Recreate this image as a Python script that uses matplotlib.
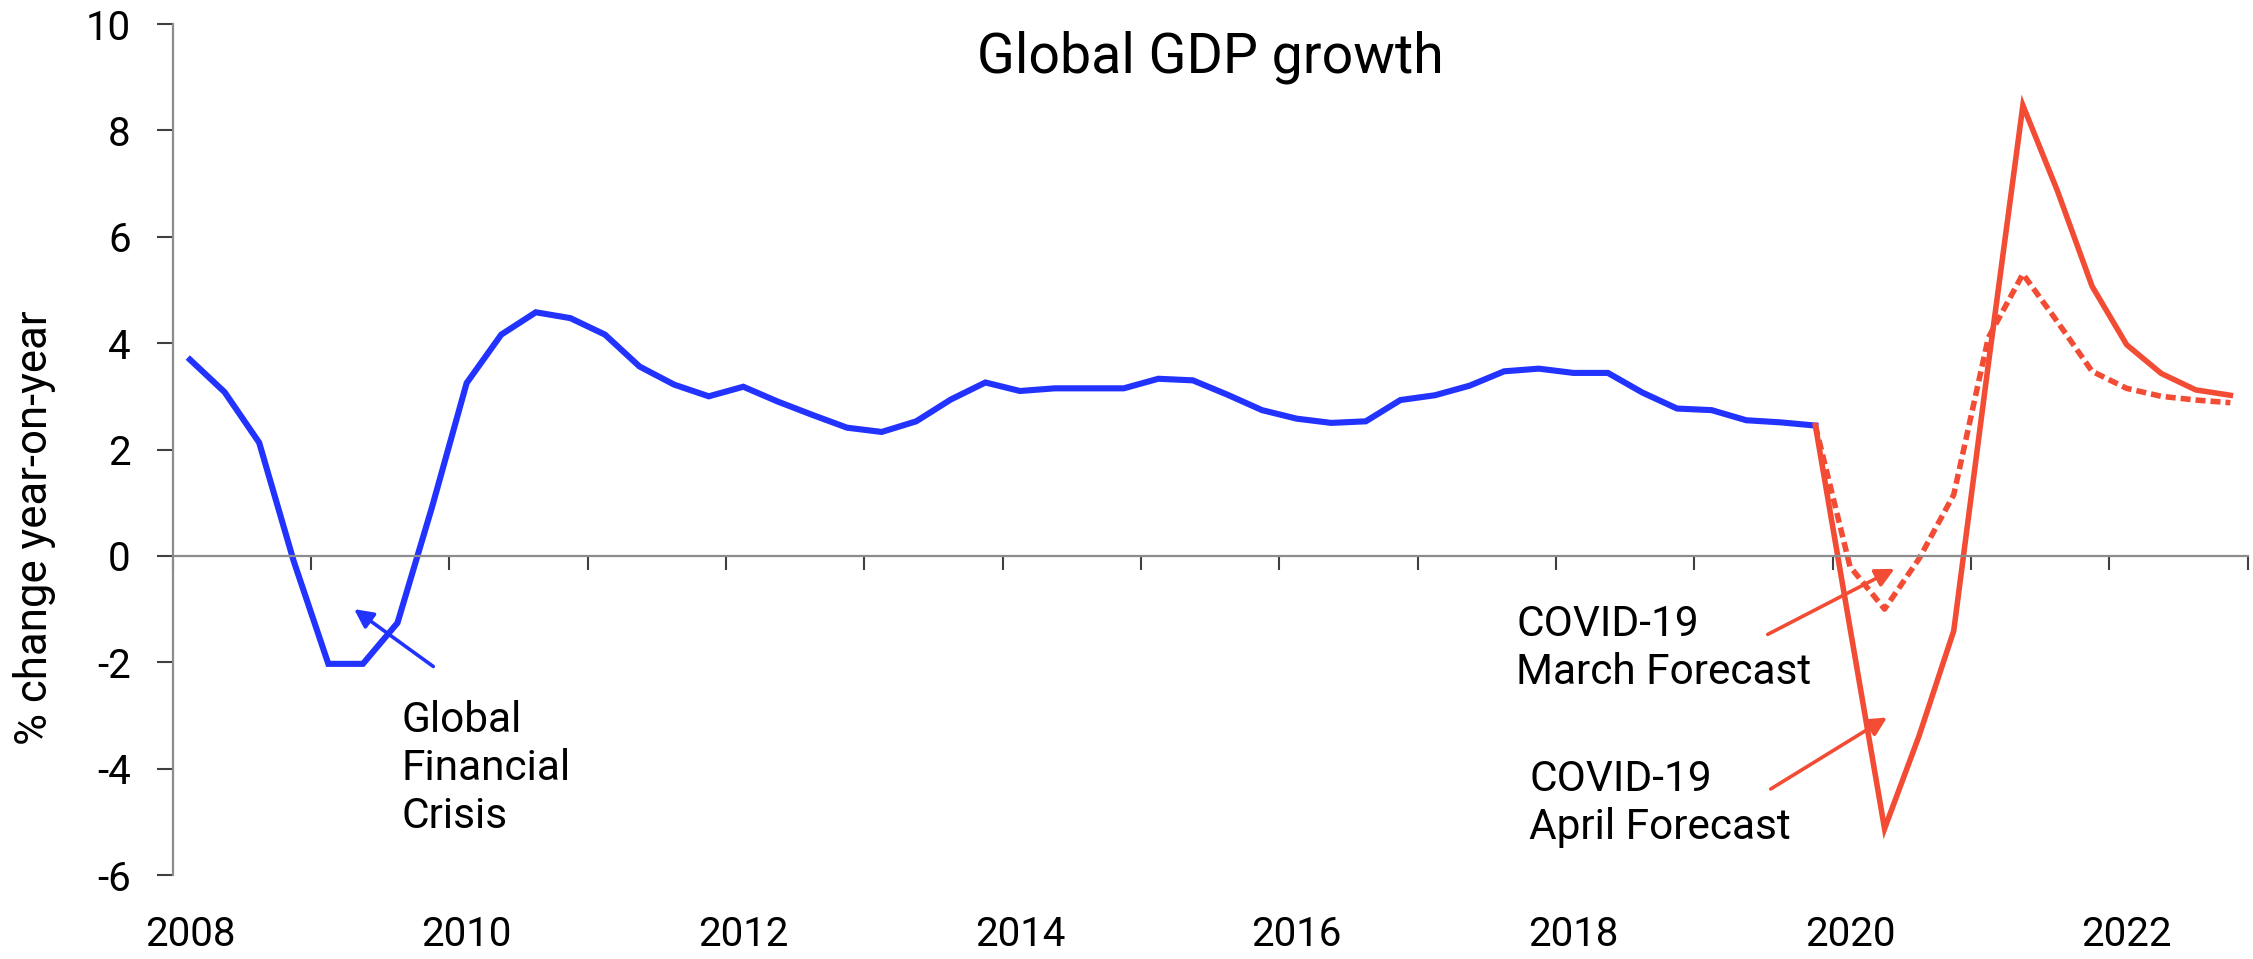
import numpy as np
import matplotlib
matplotlib.use("Agg")
import matplotlib.pyplot as plt

plt.rcParams['font.family'] = ['Roboto', 'DejaVu Sans']
plt.rcParams['axes.unicode_minus'] = False

# quarterly data, 2008Q1 .. 2022Q4 (index 0..59)
actual = [3.69, 3.08, 2.13, -0.10, -2.03, -2.03, -1.26, 0.92,
          3.25, 4.16, 4.58, 4.47, 4.16, 3.56, 3.22, 3.00,
          3.18, 2.90, 2.65, 2.41, 2.33, 2.53, 2.94, 3.26,
          3.10, 3.15, 3.15, 3.15, 3.33, 3.30, 3.03, 2.74,
          2.58, 2.50, 2.53, 2.93, 3.02, 3.20, 3.47, 3.52,
          3.44, 3.44, 3.07, 2.77, 2.74, 2.55, 2.51, 2.45]
# forecasts start from the last actual quarter (2019Q4)
april = [2.45, -1.35, -5.13, -3.38, -1.41, 3.60, 8.47, 6.86,
         5.07, 3.97, 3.43, 3.12, 3.02]
march = [2.45, -0.20, -1.00, -0.05, 1.15, 4.10, 5.30, 4.40,
         3.47, 3.15, 3.00, 2.93, 2.88]

year_labels = ['2008', '2010', '2012', '2014', '2016', '2018', '2020', '2022']
y_ticks = [-6, -4, -2, 0, 2, 4, 6, 8, 10]

BLUE = '#2233FF'
RED = '#F24C35'
GREY = '#8c8c8c'

x_act = np.arange(len(actual))
x_fc = np.arange(len(actual) - 1, len(actual) - 1 + len(april))

fig = plt.figure(figsize=(22.53, 9.59), dpi=100)
ax = fig.add_axes([0.07665, 0.08759, 0.92099, 0.88738])

ax.plot(x_act, actual, color=BLUE, lw=4.4, solid_joinstyle='miter')
ax.plot(x_fc, march, color=RED, lw=4, dashes=(1.8, 0.9))
ax.plot(x_fc, april, color=RED, lw=4, solid_joinstyle='miter')

ax.set_xlim(-0.5, 59.5)
ax.set_ylim(-6, 10)

# axes styling
for s in ['top', 'right']:
    ax.spines[s].set_visible(False)
ax.spines['bottom'].set_position(('data', 0))
for s in ['bottom', 'left']:
    ax.spines[s].set_color(GREY)
    ax.spines[s].set_linewidth(1.6)

ax.set_xticks(np.arange(-0.5, 60, 4))
ax.tick_params(axis='x', labelbottom=False, length=10, width=1.5,
               color='#404040', direction='out')
ax.set_yticks(y_ticks)
ax.tick_params(axis='y', length=11.3, width=1.5, color='#404040',
               pad=19, labelsize=29)

sec = ax.secondary_xaxis('bottom')
sec.set_xticks(np.arange(0, 60, 8), labels=year_labels)
sec.tick_params(length=0, pad=28.5, labelsize=29)
sec.spines['bottom'].set_visible(False)

ax.set_ylabel('% change year-on-year', fontsize=31.5, va='center')
ax.yaxis.set_label_coords(-0.0668, 0.408)

ax.text(29.5, 9.08, 'Global GDP growth', fontsize=40, ha='center', va='baseline')

# annotations
ax.annotate('', xy=(4.68, -0.97), xytext=(7.1, -2.11),
            arrowprops=dict(arrowstyle='-|>', color=BLUE, lw=2.6, mutation_scale=28))
ax.text(6.12, -2.71, 'Global\nFinancial\nCrisis', fontsize=30.5,
        ha='left', va='top', linespacing=1.22)

ax.annotate('', xy=(49.36, -0.22), xytext=(45.55, -1.50),
            arrowprops=dict(arrowstyle='-|>', color=RED, lw=2.6, mutation_scale=28))
ax.text(38.35, -0.906, 'COVID-19\nMarch Forecast', fontsize=30.5,
        ha='left', va='top', linespacing=1.22)

ax.annotate('', xy=(49.14, -3.01), xytext=(45.64, -4.41),
            arrowprops=dict(arrowstyle='-|>', color=RED, lw=2.6, mutation_scale=28))
ax.text(38.73, -3.81, 'COVID-19\nApril Forecast', fontsize=30.5,
        ha='left', va='top', linespacing=1.22)

fig.savefig('out.png', dpi=100)
